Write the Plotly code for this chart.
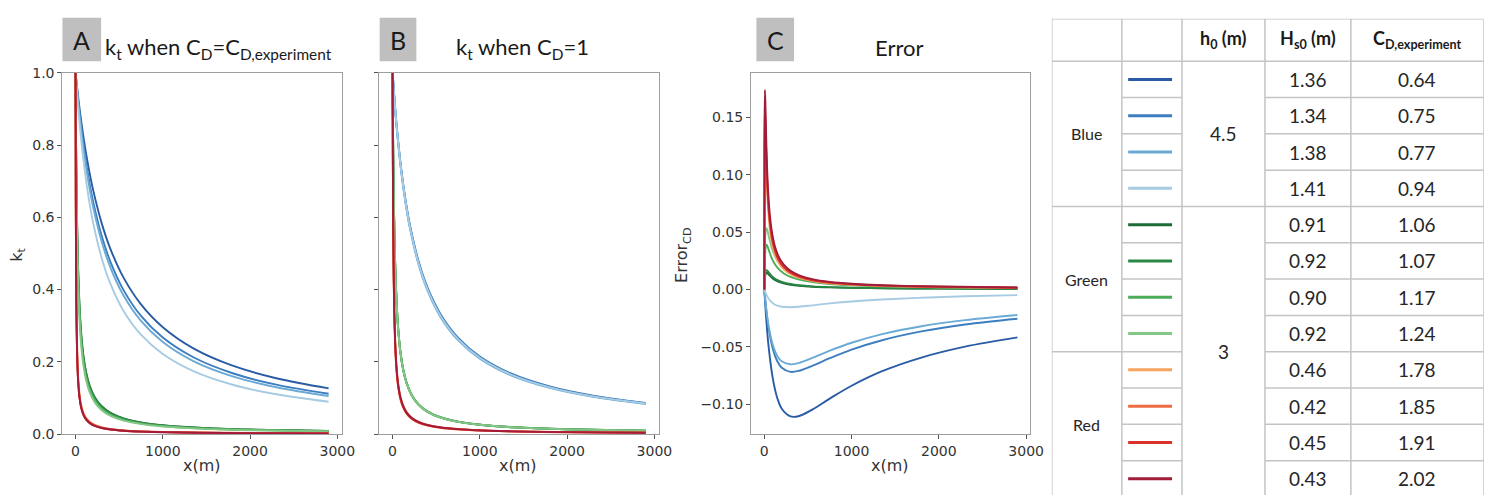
import plotly.graph_objects as go

# ---------------------------------------------------------------------------
# Distance along the vegetation field (m)
# ---------------------------------------------------------------------------
X_SLOW = [0, 25, 50, 100, 150, 200, 300, 400, 550, 750, 1000, 1350, 1800, 2300, 2900]
X_FAST = [0, 3, 7, 12, 20, 30, 45, 65, 90, 120, 160, 220, 300, 400, 550, 750,
          1000, 1400, 2000, 2900]

# ---------------------------------------------------------------------------
# Case table
# ---------------------------------------------------------------------------
GROUP = ["Blue"] * 4 + ["Green"] * 4 + ["Red"] * 4
H0 = ["4.5"] * 4 + ["3"] * 8
HS0 = ["1.36", "1.34", "1.38", "1.41", "0.91", "0.92", "0.90", "0.92",
       "0.46", "0.42", "0.45", "0.43"]
CD_EXP = ["0.64", "0.75", "0.77", "0.94", "1.06", "1.07", "1.17", "1.24",
          "1.78", "1.85", "1.91", "2.02"]
COLORS = ["#2a5ca6", "#3c7ebf", "#6aaad5", "#a7cbe3",
          "#1d6b37", "#2a8745", "#4cac5a", "#84c785",
          "#f7a55e", "#ee6b45", "#d8322b", "#a21c3a"]

# ---------------------------------------------------------------------------
# A: transmission coefficient k_t with the experimental drag coefficient
# ---------------------------------------------------------------------------
A_B1 = [1.0, 0.9438, 0.8936, 0.8077, 0.7368, 0.6774, 0.5833, 0.5122, 0.4330, 0.3590, 0.2958, 0.2373, 0.1892, 0.1544, 0.1265]
A_B2 = [1.0, 0.9358, 0.8793, 0.7846, 0.7084, 0.6456, 0.5484, 0.4766, 0.3984, 0.3269, 0.2670, 0.2125, 0.1683, 0.1367, 0.1116]
A_B3 = [1.0, 0.9318, 0.8724, 0.7736, 0.6950, 0.6308, 0.5325, 0.4607, 0.3833, 0.3130, 0.2547, 0.2020, 0.1596, 0.1294, 0.1054]
A_B4 = [1.0, 0.9192, 0.8505, 0.7399, 0.6547, 0.5871, 0.4867, 0.4156, 0.3409, 0.2749, 0.2214, 0.1740, 0.1364, 0.1100, 0.0893]
A_G1 = [1.0, 0.8927, 0.7810, 0.6753, 0.5551, 0.4541, 0.3567, 0.2774, 0.2171, 0.1722, 0.1349, 0.1019, 0.0768, 0.0587, 0.0434, 0.0322, 0.0243, 0.0175, 0.0123, 0.0085]
A_G2 = [1.0, 0.8908, 0.7775, 0.6710, 0.5502, 0.4492, 0.3522, 0.2735, 0.2138, 0.1694, 0.1326, 0.1001, 0.0754, 0.0576, 0.0426, 0.0316, 0.0239, 0.0172, 0.0121, 0.0084]
A_G3 = [1.0, 0.8840, 0.7655, 0.6557, 0.5333, 0.4324, 0.3368, 0.2601, 0.2025, 0.1600, 0.1250, 0.0941, 0.0708, 0.0540, 0.0399, 0.0296, 0.0223, 0.0161, 0.0113, 0.0078]
A_G4 = [1.0, 0.8756, 0.7510, 0.6376, 0.5135, 0.4130, 0.3193, 0.2452, 0.1900, 0.1496, 0.1166, 0.0876, 0.0657, 0.0501, 0.0370, 0.0274, 0.0207, 0.0149, 0.0104, 0.0072]
A_R1 = [1.0, 0.6407, 0.4332, 0.3084, 0.2111, 0.1514, 0.1063, 0.0761, 0.0561, 0.0427, 0.0324, 0.0237, 0.0175, 0.0132, 0.0096, 0.0071, 0.0053, 0.0038, 0.0027, 0.0018]
A_R2 = [1.0, 0.6524, 0.4458, 0.3194, 0.2197, 0.1580, 0.1112, 0.0797, 0.0589, 0.0448, 0.0340, 0.0250, 0.0184, 0.0139, 0.0101, 0.0075, 0.0056, 0.0040, 0.0028, 0.0019]
A_R3 = [1.0, 0.6289, 0.4207, 0.2976, 0.2027, 0.1449, 0.1015, 0.0725, 0.0535, 0.0406, 0.0308, 0.0226, 0.0167, 0.0126, 0.0092, 0.0067, 0.0051, 0.0036, 0.0025, 0.0017]
A_R4 = [1.0, 0.6274, 0.4191, 0.2962, 0.2016, 0.1441, 0.1009, 0.0721, 0.0531, 0.0404, 0.0306, 0.0224, 0.0166, 0.0125, 0.0091, 0.0067, 0.0050, 0.0036, 0.0025, 0.0017]

# ---------------------------------------------------------------------------
# B: k_t with C_D = 1
# ---------------------------------------------------------------------------
B_B1 = [1.0, 0.9149, 0.8432, 0.7289, 0.6418, 0.5734, 0.4726, 0.4019, 0.3283, 0.2639, 0.2119, 0.1661, 0.1299, 0.1046, 0.0848]
B_B2 = [1.0, 0.9162, 0.8453, 0.7321, 0.6456, 0.5774, 0.4766, 0.4058, 0.3319, 0.2670, 0.2146, 0.1683, 0.1318, 0.1062, 0.0861]
B_B3 = [1.0, 0.9132, 0.8403, 0.7246, 0.6369, 0.5682, 0.4673, 0.3968, 0.3236, 0.2597, 0.2083, 0.1631, 0.1276, 0.1027, 0.0832]
B_B4 = [1.0, 0.9145, 0.8425, 0.7278, 0.6406, 0.5721, 0.4713, 0.4006, 0.3271, 0.2628, 0.2110, 0.1653, 0.1293, 0.1041, 0.0844]
B_G1 = [1.0, 0.8981, 0.7908, 0.6879, 0.5695, 0.4686, 0.3702, 0.2893, 0.2272, 0.1806, 0.1419, 0.1073, 0.0810, 0.0620, 0.0459, 0.0341, 0.0258, 0.0185, 0.0131, 0.0090]
B_G2 = [1.0, 0.8972, 0.7890, 0.6857, 0.5669, 0.4660, 0.3678, 0.2871, 0.2253, 0.1791, 0.1406, 0.1063, 0.0803, 0.0614, 0.0454, 0.0337, 0.0255, 0.0184, 0.0129, 0.0089]
B_G3 = [1.0, 0.8991, 0.7925, 0.6902, 0.5721, 0.4713, 0.3727, 0.2915, 0.2290, 0.1822, 0.1432, 0.1084, 0.0818, 0.0627, 0.0464, 0.0344, 0.0260, 0.0187, 0.0132, 0.0091]
B_G4 = [1.0, 0.8972, 0.7890, 0.6857, 0.5669, 0.4660, 0.3678, 0.2871, 0.2253, 0.1791, 0.1406, 0.1063, 0.0803, 0.0614, 0.0454, 0.0337, 0.0255, 0.0184, 0.0129, 0.0089]
B_R1 = [1.0, 0.7605, 0.5764, 0.4425, 0.3226, 0.2410, 0.1747, 0.1278, 0.0957, 0.0735, 0.0562, 0.0415, 0.0308, 0.0233, 0.0170, 0.0125, 0.0094, 0.0068, 0.0047, 0.0033]
B_R2 = [1.0, 0.7764, 0.5981, 0.4647, 0.3425, 0.2577, 0.1880, 0.1381, 0.1037, 0.0799, 0.0611, 0.0452, 0.0336, 0.0254, 0.0186, 0.0137, 0.0103, 0.0074, 0.0052, 0.0036]
B_R3 = [1.0, 0.7639, 0.5811, 0.4472, 0.3268, 0.2445, 0.1775, 0.1300, 0.0974, 0.0749, 0.0572, 0.0423, 0.0313, 0.0237, 0.0173, 0.0128, 0.0096, 0.0069, 0.0048, 0.0033]
B_R4 = [1.0, 0.7728, 0.5931, 0.4596, 0.3378, 0.2538, 0.1848, 0.1357, 0.1018, 0.0784, 0.0600, 0.0443, 0.0329, 0.0249, 0.0182, 0.0134, 0.0101, 0.0072, 0.0051, 0.0035]

# ---------------------------------------------------------------------------
# C: error between the two drag-coefficient choices
# ---------------------------------------------------------------------------
C_B1 = [0.0, -0.0289, -0.0504, -0.0788, -0.0950, -0.1040, -0.1107, -0.1103, -0.1047, -0.0951, -0.0839, -0.0712, -0.0593, -0.0498, -0.0417]
C_B2 = [0.0, -0.0196, -0.0340, -0.0525, -0.0628, -0.0682, -0.0718, -0.0708, -0.0665, -0.0599, -0.0524, -0.0442, -0.0365, -0.0305, -0.0255]
C_B3 = [0.0, -0.0186, -0.0321, -0.0490, -0.0581, -0.0626, -0.0652, -0.0639, -0.0597, -0.0533, -0.0464, -0.0389, -0.0320, -0.0267, -0.0222]
C_B4 = [0.0, -0.0047, -0.0080, -0.0121, -0.0141, -0.0150, -0.0154, -0.0150, -0.0138, -0.0121, -0.0104, -0.0087, -0.0071, -0.0059, -0.0049]
C_G1 = [0.0, 0.0054, 0.0098, 0.0126, 0.0144, 0.0145, 0.0135, 0.0119, 0.0101, 0.0084, 0.0070, 0.0054, 0.0042, 0.0033, 0.0025, 0.0019, 0.0015, 0.0010, 0.0008, 0.0005]
C_G2 = [0.0, 0.0064, 0.0115, 0.0147, 0.0167, 0.0168, 0.0156, 0.0136, 0.0115, 0.0097, 0.0080, 0.0062, 0.0049, 0.0038, 0.0028, 0.0021, 0.0016, 0.0012, 0.0008, 0.0005]
C_G3 = [0.0, 0.0151, 0.0270, 0.0345, 0.0388, 0.0389, 0.0359, 0.0314, 0.0265, 0.0222, 0.0182, 0.0143, 0.0110, 0.0087, 0.0065, 0.0048, 0.0037, 0.0026, 0.0019, 0.0013]
C_G4 = [0.0, 0.0216, 0.0380, 0.0481, 0.0534, 0.0530, 0.0485, 0.0419, 0.0353, 0.0295, 0.0240, 0.0187, 0.0146, 0.0113, 0.0084, 0.0063, 0.0048, 0.0035, 0.0025, 0.0017]
C_R1 = [0.0, 0.1198, 0.1432, 0.1341, 0.1115, 0.0896, 0.0684, 0.0517, 0.0396, 0.0308, 0.0238, 0.0178, 0.0133, 0.0101, 0.0074, 0.0054, 0.0041, 0.0030, 0.0020, 0.0015]
C_R2 = [0.0, 0.1240, 0.1523, 0.1453, 0.1228, 0.0997, 0.0768, 0.0584, 0.0448, 0.0351, 0.0271, 0.0202, 0.0152, 0.0115, 0.0085, 0.0062, 0.0047, 0.0034, 0.0024, 0.0017]
C_R3 = [0.0, 0.1350, 0.1604, 0.1496, 0.1241, 0.0996, 0.0760, 0.0575, 0.0439, 0.0343, 0.0264, 0.0197, 0.0146, 0.0111, 0.0081, 0.0061, 0.0045, 0.0033, 0.0023, 0.0016]
C_R4 = [0.0, 0.1454, 0.1740, 0.1634, 0.1362, 0.1097, 0.0839, 0.0636, 0.0487, 0.0380, 0.0294, 0.0219, 0.0163, 0.0124, 0.0091, 0.0067, 0.0051, 0.0036, 0.0026, 0.0018]

SERIES_X = [X_SLOW] * 4 + [X_FAST] * 8
PANEL_A = [A_B1, A_B2, A_B3, A_B4, A_G1, A_G2, A_G3, A_G4, A_R1, A_R2, A_R3, A_R4]
PANEL_B = [B_B1, B_B2, B_B3, B_B4, B_G1, B_G2, B_G3, B_G4, B_R1, B_R2, B_R3, B_R4]
PANEL_C = [C_B1, C_B2, C_B3, C_B4, C_G1, C_G2, C_G3, C_G4, C_R1, C_R2, C_R3, C_R4]

# ---------------------------------------------------------------------------
# Page geometry helpers (pixel -> paper)
# ---------------------------------------------------------------------------
W, H = 1501, 503


def px(x):
    return x / W


def py(y):
    return 1 - y / H


TICK_FONT = dict(family="DejaVu Sans", size=14, color="#333333")
LABEL_FONT = dict(family="DejaVu Sans", size=16, color="#333333")
TITLE_FONT = dict(family="Lato", size=22, color="#1a1a1a")
TABLE_FONT = dict(family="Lato", size=19, color="#262626")
FRAME = "#9e9e9e"

fig = go.Figure()

for xa, ya, panel in (("x", "y", PANEL_A), ("x2", "y2", PANEL_B), ("x3", "y3", PANEL_C)):
    for xs, ys, col in zip(SERIES_X, panel, COLORS):
        smooth = 1.0 if xs is X_SLOW else 0.7
        fig.add_trace(go.Scatter(x=xs, y=ys, mode="lines", xaxis=xa, yaxis=ya,
                                 line=dict(color=col, width=1.9, shape="spline", smoothing=smooth),
                                 hoverinfo="skip"))

axis_common = dict(showgrid=False, zeroline=False, showline=True, mirror=True,
                   linecolor=FRAME, linewidth=1.3, ticks="outside", ticklen=4,
                   tickcolor="#555555", tickfont=TICK_FONT, fixedrange=True)
x_common = dict(axis_common, range=[-150, 3050], tickvals=[0, 1000, 2000, 3000])
y_dom = [py(440), py(67)]

layout = dict(
    width=W, height=H, margin=dict(l=0, r=0, t=0, b=0),
    paper_bgcolor="white", plot_bgcolor="white", showlegend=False,
    xaxis=dict(x_common, domain=[px(63), px(344.7)], anchor="y"),
    yaxis=dict(axis_common, domain=y_dom, range=[0, 1], anchor="x",
               tickvals=[0, 0.2, 0.4, 0.6, 0.8, 1.0], tickformat=".1f"),
    xaxis2=dict(x_common, domain=[px(382.8), px(664.5)], anchor="y2"),
    yaxis2=dict(axis_common, domain=y_dom, range=[0, 1], anchor="x2",
                tickvals=[0, 0.2, 0.4, 0.6, 0.8, 1.0], showticklabels=False),
    xaxis3=dict(x_common, domain=[px(757.8), px(1039.5)], anchor="y3"),
    yaxis3=dict(axis_common, domain=y_dom, range=[-0.126, 0.189], anchor="x3",
                tickvals=[-0.10, -0.05, 0.0, 0.05, 0.10, 0.15], tickformat=".2f"),
)

# ---------------------------------------------------------------------------
# Table drawn on its own axis pair: one y unit per data row
# ---------------------------------------------------------------------------
COL_EDGES = [0, 70.7, 131.3, 215, 301.7, 435.7]
HEADER_TOP = -44 / 37.5
N = len(GROUP)
TABLE_BOTTOM_VIEW = (503 - 55) / 37.5
layout["xaxis4"] = dict(domain=[px(1061), px(1061 + COL_EDGES[-1])], range=[COL_EDGES[0], COL_EDGES[-1]],
                        visible=False, fixedrange=True, anchor="y4")
layout["yaxis4"] = dict(domain=[0, py(11)], range=[TABLE_BOTTOM_VIEW, HEADER_TOP],
                        visible=False, fixedrange=True, anchor="x4")

GRID = dict(color="#c4c4c4", width=1.5)
shapes = []


def hline(x0, x1, y):
    shapes.append(dict(type="line", xref="x4", yref="y4", x0=x0, x1=x1, y0=y, y1=y, line=GRID))


for xe in COL_EDGES:
    shapes.append(dict(type="line", xref="x4", yref="y4", x0=xe, x1=xe,
                       y0=HEADER_TOP, y1=N, line=GRID))
hline(COL_EDGES[0], COL_EDGES[-1], HEADER_TOP)
hline(COL_EDGES[0], COL_EDGES[-1], 0)
hline(COL_EDGES[0], COL_EDGES[-1], N)


def runs(values):
    out, start = [], 0
    for i in range(1, len(values) + 1):
        if i == len(values) or values[i] != values[start]:
            out.append((start, i, values[start]))
            start = i
    return out


annotations = []


def cell_text(text, col, yc, font=TABLE_FONT):
    annotations.append(dict(text=text, xref="x4", yref="y4",
                            x=(COL_EDGES[col] + COL_EDGES[col + 1]) / 2, y=yc,
                            showarrow=False, font=font, xanchor="center", yanchor="middle"))


# merged columns: group name and water depth
for col, values, font in ((0, GROUP, dict(TABLE_FONT, size=16)), (2, H0, TABLE_FONT)):
    for s, e, v in runs(values):
        if s > 0:
            hline(COL_EDGES[col], COL_EDGES[col + 1], s)
        cell_text(v, col, (s + e) / 2, font)

# per-row columns: colour swatch, wave height, drag coefficient
for i in range(N):
    if i > 0:
        hline(COL_EDGES[1], COL_EDGES[2], i)
        hline(COL_EDGES[3], COL_EDGES[5], i)
    inset = 6.3
    fig.add_trace(go.Scatter(x=[COL_EDGES[1] + inset, COL_EDGES[2] - 10], y=[i + 0.5, i + 0.5],
                             mode="lines", xaxis="x4", yaxis="y4",
                             line=dict(color=COLORS[i], width=3), hoverinfo="skip"))
    cell_text(HS0[i], 3, i + 0.5)
    cell_text(CD_EXP[i], 4, i + 0.5)

HEAD_FONT = dict(family="Lato", size=18, color="#1a1a1a")
cell_text("<b>h<sub>0</sub> (m)</b>", 2, HEADER_TOP / 2, HEAD_FONT)
cell_text("<b>H<sub>s0</sub> (m)</b>", 3, HEADER_TOP / 2, HEAD_FONT)
cell_text("<b>C<sub>D,experiment</sub></b>", 4, HEADER_TOP / 2, HEAD_FONT)

# ---------------------------------------------------------------------------
# Panel letters, titles and axis labels
# ---------------------------------------------------------------------------
for letter, x0, x1 in (("A", 63, 102), ("B", 383, 420), ("C", 763, 801)):
    shapes.append(dict(type="rect", xref="paper", yref="paper", x0=px(x0), x1=px(x1),
                       y0=py(55), y1=py(10), fillcolor="#bfbfbf", line=dict(width=0), layer="below"))
    annotations.append(dict(text=letter, xref="paper", yref="paper", x=px((x0 + x1) / 2), y=py(33),
                            showarrow=False, font=dict(family="Lato", size=25, color="#1a1a1a"),
                            xanchor="center", yanchor="middle"))

for text, xc in (("k<sub>t</sub> when C<sub>D</sub>=C<sub>D,experiment</sub>", 220),
                 ("k<sub>t</sub> when C<sub>D</sub>=1", 527),
                 ("Error", 907)):
    annotations.append(dict(text=text, xref="paper", yref="paper", x=px(xc), y=py(41),
                            showarrow=False, font=TITLE_FONT, xanchor="center", yanchor="middle"))

for xc in (204, 523, 898):
    annotations.append(dict(text="x(m)", xref="paper", yref="paper", x=px(xc), y=py(473),
                            showarrow=False, font=LABEL_FONT, xanchor="center", yanchor="middle"))

annotations.append(dict(text="k<sub>t</sub>", xref="paper", yref="paper", x=px(18), y=py(255),
                        showarrow=False, font=LABEL_FONT, textangle=-90,
                        xanchor="center", yanchor="middle"))
annotations.append(dict(text="Error<sub>CD</sub>", xref="paper", yref="paper", x=px(689), y=py(256),
                        showarrow=False, font=LABEL_FONT, textangle=-90,
                        xanchor="center", yanchor="middle"))

layout["shapes"] = shapes
layout["annotations"] = annotations
fig.update_layout(**layout)

fig.write_html("out.html")
